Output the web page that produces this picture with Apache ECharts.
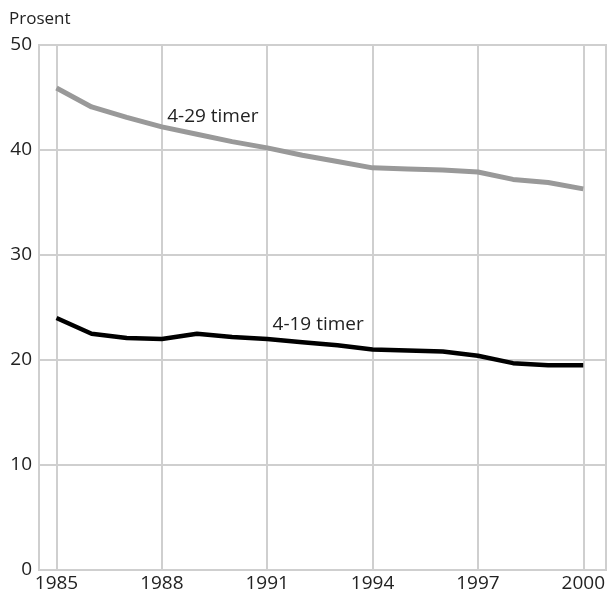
<!DOCTYPE html>
<html>
<head>
<meta charset="utf-8">
<script src="https://cdn.jsdelivr.net/npm/echarts@6/dist/echarts.min.js"></script>
<style>
  html, body { margin: 0; padding: 0; background: #fff; }
  #chart { width: 608px; height: 596px; }
</style>
</head>
<body>
<div id="chart"></div>
<script>
const years = [1985, 1986, 1987, 1988, 1989, 1990, 1991, 1992, 1993, 1994, 1995, 1996, 1997, 1998, 1999, 2000]
const timer429 = [45.9, 44.1, 43.1, 42.2, 41.5, 40.8, 40.2, 39.5, 38.9, 38.3, 38.2, 38.1, 37.9, 37.2, 36.9, 36.3]
const timer419 = [24.0, 22.5, 22.1, 22.0, 22.5, 22.2, 22.0, 21.7, 21.4, 21.0, 20.9, 20.8, 20.4, 19.7, 19.5, 19.5]
const seriesNames = ['4-29 timer', '4-19 timer']
// label anchor points in data units
const labelAt = [[1989.45, 43.2], [1992.45, 23.4]]

const font = "'Open Sans', 'DejaVu Sans', sans-serif"
const textColor = '#222'
const gridColor = '#cfcfcf'

const chart = echarts.init(document.getElementById('chart'))

const pairs = (vals) => years.map((y, i) => [y, vals[i]])

chart.setOption({
  animation: false,
  title: {
    text: 'Prosent',
    left: 4,
    top: 6,
    textStyle: { fontFamily: font, fontSize: 17, fontWeight: 'normal', color: textColor }
  },
  grid: [
    // data area
    { left: 56.5, right: 20.5, top: 45, bottom: 26 },
    // outer frame
    { left: 39, right: 2, top: 45, bottom: 26, show: true, borderColor: gridColor, borderWidth: 2 }
  ],
  xAxis: [
    {
      gridIndex: 0,
      type: 'value',
      min: 1985,
      max: 2000,
      interval: 3,
      axisLine: { show: false },
      axisTick: { show: false },
      axisLabel: { fontFamily: font, fontSize: 19, color: textColor, margin: 4, formatter: v => String(v) },
      splitLine: { lineStyle: { color: gridColor, width: 2 } }
    },
    { gridIndex: 1, type: 'value', min: 0, max: 1, show: false }
  ],
  yAxis: [
    { gridIndex: 0, type: 'value', min: 0, max: 50, interval: 10, show: false },
    {
      gridIndex: 1,
      type: 'value',
      min: 0,
      max: 50,
      interval: 10,
      axisLine: { show: false },
      axisTick: { show: false },
      axisLabel: { fontFamily: font, fontSize: 19, color: textColor, margin: 7 },
      splitLine: { lineStyle: { color: gridColor, width: 2 } }
    }
  ],
  series: [
    {
      name: seriesNames[0],
      type: 'line',
      xAxisIndex: 0,
      yAxisIndex: 0,
      data: pairs(timer429),
      symbol: 'none',
      lineStyle: { color: '#999999', width: 5 },
      z: 3,
      markPoint: {
        symbolSize: 0,
        label: { show: true, formatter: seriesNames[0], fontFamily: font, fontSize: 19, color: textColor },
        data: [{ coord: labelAt[0] }]
      }
    },
    {
      name: seriesNames[1],
      type: 'line',
      xAxisIndex: 0,
      yAxisIndex: 0,
      data: pairs(timer419),
      symbol: 'none',
      lineStyle: { color: '#000000', width: 4.5 },
      z: 4,
      markPoint: {
        symbolSize: 0,
        label: { show: true, formatter: seriesNames[1], fontFamily: font, fontSize: 19, color: textColor },
        data: [{ coord: labelAt[1] }]
      }
    }
  ]
})
</script>
</body>
</html>
